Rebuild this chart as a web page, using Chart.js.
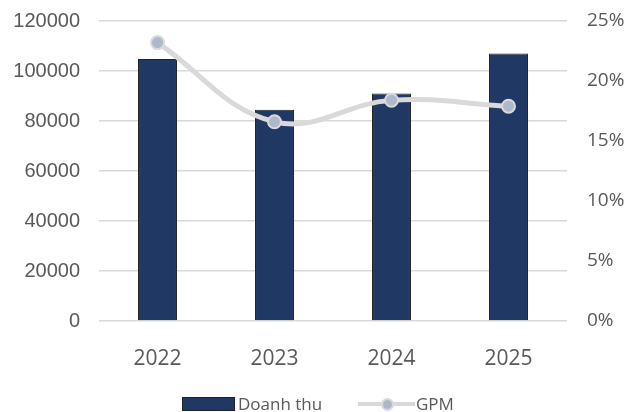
<!DOCTYPE html>
<html>
<head>
<meta charset="utf-8">
<script src="https://cdn.jsdelivr.net/npm/chart.js@4"></script>
<style>
  html, body { margin: 0; padding: 0; background: #fff; }
  #wrap { position: relative; width: 633px; height: 412px; }
  #legend { position: absolute; left: 0; top: 0; width: 633px; height: 412px; pointer-events: none;
    font-family: 'Open Sans', sans-serif; font-size: 17px; color: #595959; }
  #legend .sw, #legend .ln, #legend .dot, #legend .tx { position: absolute; }
  #legend .sw { left: 182px; top: 397px; width: 51px; height: 12px; background: #1f3864; border: 1px solid #222; }
  #legend .ln { left: 358px; top: 402px; width: 57px; height: 4px; background: #d9d9d9; }
  #legend .dot { left: 381px; top: 398px; width: 9px; height: 9px; border-radius: 50%; background: #adb9ca; border: 2px solid #d9d9d9; }
  #legend .tx { top: 392px; line-height: 24px; }
</style>
</head>
<body>
<div id="wrap">
  <canvas id="c" width="633" height="412"></canvas>
  <div id="legend">
    <div class="sw"></div><div class="tx" style="left:238px">Doanh thu</div>
    <div class="ln"></div><div class="dot"></div><div class="tx" style="left:416px">GPM</div>
  </div>
</div>
<script>
// ── Data ────────────────────────────────────────────
const YEARS = ['2022', '2023', '2024', '2025'];
const REVENUE = [104800, 84500, 91000, 107000];   // Doanh thu
const GPM = [23.2, 16.6, 18.4, 17.9];             // % gross profit margin

const NAVY = '#1f3864';
const LINE_GREY = '#d9d9d9';
const GRID = '#d9d9d9';
const TEXT = '#595959';

// fixed plot box: left 99, right 567, top 21, bottom 321
function fitY(width) {
  return s => { s.width = width; s.paddingTop = 0; s.paddingBottom = 0; };
}

new Chart(document.getElementById('c'), {
  data: {
    labels: YEARS,
    datasets: [
      {
        type: 'line',
        label: 'GPM',
        data: GPM,
        yAxisID: 'y1',
        borderColor: LINE_GREY,
        borderWidth: 5,
        tension: 0.4,
        pointRadius: 6.5,
        pointBackgroundColor: '#adb9ca',
        pointBorderColor: LINE_GREY,
        pointBorderWidth: 2,
        order: 0,
      },
      {
        type: 'bar',
        label: 'Doanh thu',
        data: REVENUE,
        yAxisID: 'y',
        backgroundColor: NAVY,
        borderColor: '#222',
        borderWidth: 1,
        categoryPercentage: 1,
        barPercentage: 0.333,
        order: 1,
      },
    ],
  },
  options: {
    responsive: false,
    animation: false,
    layout: { padding: { top: 21, left: 0, right: 0, bottom: 0 } },
    plugins: { legend: { display: false }, tooltip: { enabled: false } },
    scales: {
      x: {
        grid: { display: false },
        border: { display: false },
        ticks: { color: TEXT, padding: 17, font: { family: "'Open Sans'", size: 21 } },
        afterFit: s => { s.height = 91; s.paddingLeft = 0; s.paddingRight = 0; },
      },
      y: {
        position: 'left',
        min: 0, max: 120000,
        ticks: { stepSize: 20000, color: TEXT, padding: 19, callback: v => String(v), font: { family: "'Liberation Sans'", size: 20 } },
        grid: { color: GRID, lineWidth: 1.5, drawTicks: false },
        border: { display: false },
        afterFit: fitY(99),
      },
      y1: {
        position: 'right',
        min: 0, max: 25,
        ticks: { stepSize: 5, color: TEXT, padding: 20, callback: v => v + '%', font: { family: "'Open Sans'", size: 19 } },
        grid: { display: false, drawTicks: false },
        border: { display: false },
        afterFit: fitY(66),
      },
    },
  },
});
</script>
</body>
</html>
